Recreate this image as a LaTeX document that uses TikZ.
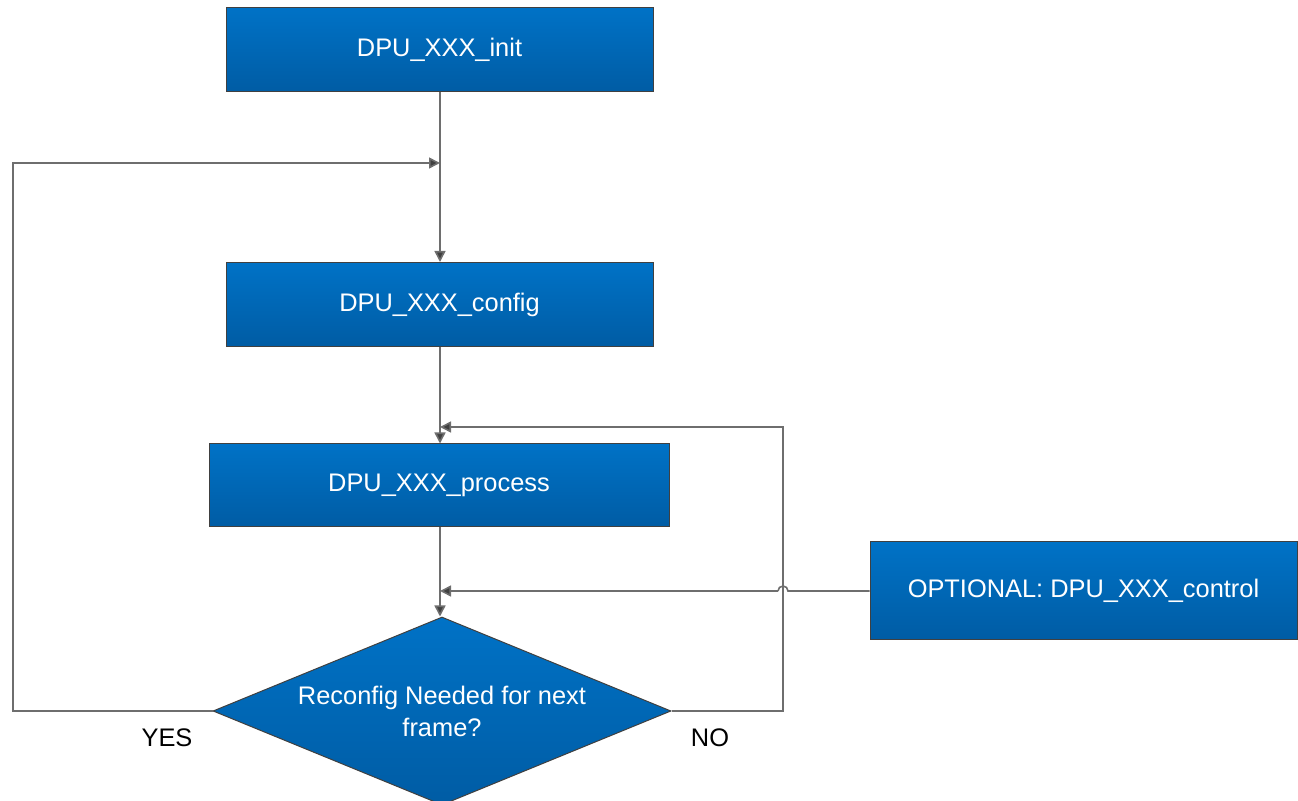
\documentclass[tikz,border=0pt]{standalone}
\usepackage{fontspec}
\setmainfont{Liberation Sans}
\usepackage{tikz}
\usetikzlibrary{
    positioning,
    arrows.meta,
    shapes.geometric,
    calc
}
\definecolor{dpuTop}{RGB}{0,114,198}
\definecolor{dpuBot}{RGB}{0,92,164}
\definecolor{dpuEdge}{RGB}{64,64,64}
\definecolor{flowLine}{RGB}{110,110,110}
\definecolor{tipGray}{RGB}{64,64,64}

\begin{document}
\begin{tikzpicture}[x=0.5pt, y=0.5pt, font=\fontsize{12.7}{16}\selectfont,
    dpubox/.style={draw=dpuEdge, line width=0.5pt, top color=dpuTop, bottom color=dpuBot,
                   text=white, inner sep=0pt, minimum height=42pt, align=center},
    decbox/.style={diamond, aspect=2.44, draw=dpuEdge, line width=0.5pt, top color=dpuTop,
                   bottom color=dpuBot, text=white, inner sep=0pt, minimum width=229pt,
                   minimum height=94pt, align=center},
    flow/.style={draw=flowLine, line width=0.8pt},
    arr/.style={flow, -{Triangle[length=5.5pt, width=5.5pt, fill=tipGray]}},
    ynlab/.style={text=black}]

    \useasboundingbox (0,0) rectangle (1298,-801);

    % Main blocks
    \node[dpubox, minimum width=213.5pt] (init) at (439.5,-50) {DPU\_XXX\_init};
    \node[dpubox, minimum width=213.5pt] (config) at (439.5,-304.5) {DPU\_XXX\_config};
    \node[dpubox, minimum width=230pt, minimum height=41.5pt] (process) at (439,-485.5) {DPU\_XXX\_process};
    \node[dpubox, minimum width=213.5pt, minimum height=49pt] (control) at (1083.5,-591) {OPTIONAL: DPU\_XXX\_control};

    % Decision
    \node[decbox] (dec) at (442,-711) {Reconfig Needed for next\\frame?};
    \node[ynlab] (yes) at (167,-738) {YES};
    \node[ynlab] (no) at (710,-738) {NO};

    % Bend points
    \coordinate (yesL) at (13,-711);
    \coordinate (yesT) at (13,-163);
    \coordinate (mergeA) at (440,-163);
    \coordinate (noR) at (783,-711);
    \coordinate (noT) at (783,-427);
    \coordinate (mergeB) at (440,-427);
    \coordinate (mergeC) at (440,-591);
    \coordinate (jumpR) at (788,-591);
    \coordinate (jumpL) at (778,-591);

    % Straight flow
    \draw[arr] (init.south -| mergeA) -- (config.north -| mergeA);
    \draw[arr] (config.south -| mergeA) -- (process.north -| mergeA);
    \draw[arr] (process.south -| mergeC) -- (dec.north -| mergeC);

    % YES loop back to config
    \draw[arr] (dec.west) -- (yesL) -- (yesT) -- (mergeA);

    % NO loop back to process
    \draw[arr] (dec.east) -- (noR) -- (noT) -- (mergeB);

    % Optional control, jumping over the NO line
    \draw[flow] (control.west) -- (jumpR) arc[start angle=0, end angle=180, radius=5];
    \draw[arr] (jumpL) -- (mergeC);

\end{tikzpicture}
\end{document}
